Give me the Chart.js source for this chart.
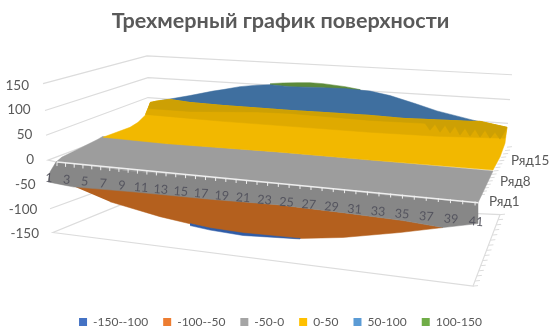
<!DOCTYPE html>
<html lang="ru">
<head>
<meta charset="UTF-8">
<title>Трехмерный график поверхности</title>
<script src="https://cdn.jsdelivr.net/npm/chart.js@4/dist/chart.umd.min.js"></script>
<style>
    html, body { margin: 0; background: #fff; }
    #box { width: 549px; height: 328px; }
    canvas { filter: blur(0.45px); }
</style>
</head>
<body>
<div id="box"><canvas id="grafico"></canvas></div>
<script>
// legenda e eixos
const bandLabels = ['-150--100', '-100--50', '-50-0', '0-50', '50-100', '100-150'];
const categories = [1, 3, 5, 7, 9, 11, 13, 15, 17, 19, 21, 23, 25, 27, 29, 31, 33, 35, 37, 39, 41];
const valueTicks = [150, 100, 50, 0, -50, -100, -150];
const rowLabels = ['Ряд1', 'Ряд8', 'Ряд15'];

// contornos de cada faixa (x em posicao de categoria, y em valor)
const greenX = [23, 24.3, 25.7, 27, 28.3, 30.5, 32, 32, 28.3, 25, 23];
const greenY = [154, 155.4, 156, 156, 154, 148, 142, 140, 146, 148, 152];
const blueX = [12, 12.7, 15, 17.3, 18.3, 20, 21.7, 23, 25, 28.3, 30.5, 33, 35, 37.5, 39.7, 43, 44.2, 44.2, 33, 15, 12];
const blueY = [120, 122, 130, 139, 142, 148, 151, 152, 148, 146, 144, 139, 130, 114, 99, 82, 76, 70, 84, 108, 116];
const yellowTopX = [11, 11.7, 13, 15, 18.3, 21.7, 25, 28.3, 33, 36.3, 39.7, 43, 44, 46.7];
const yellowTopY = [116, 119, 122, 116, 110, 105, 100, 96, 90, 84, 81, 78, 78, 66];
const yellowRestX = [46.5, 46, 45.3, 33, 24, 12.7, 6.3, 9, 9.8, 10.5];
const yellowRestY = [34, 6, -20, 0, 16, 33, 46, 66, 76, 90];
const yellowMidX = [46.5, 39.7, 33, 25, 18.3, 15, 10.5];
const yellowMidY = [44, 48, 56, 68, 78, 84, 92];
const yellowDarkX = [46.5, 46, 45.5, 45, 44.5, 44, 43.5, 43, 42.5, 42, 41.5, 41, 40.5, 40, 39.5, 39, 38.5, 33, 25, 21.7, 15, 10.8];
const yellowDarkY = [58, 42, 56, 44, 60, 46, 62, 48, 64, 50, 68, 54, 70, 56, 72, 60, 74, 80, 94, 97, 98, 104];
const grayX = [6.3, 5.8, 4, 2.2, 1.6, 9, 17, 26, 36, 43.8, 45.3, 33, 24, 12.7];
const grayY = [48, 42, 24, 6, -4, -22, -36, -52, -74, -86, -22, 0, 16, 34];
const frontX = [1.6, 1, 0.8, 2.3, 3.3, 9.3, 17, 23.7, 30.3, 36.3, 40.3, 43.8, 43.8, 36, 26, 17, 9];
const frontY = [-4, -24, -44, -50, -54, -64, -79, -90, -106, -122, -136, -128, -86, -74, -52, -36, -22];
const orangeX = [3.3, 9.3, 17, 23.7, 30.3, 36.3, 40.3, 36, 30.3, 26, 20.3, 17, 12, 7];
const orangeY = [-52, -62, -78, -90, -106, -122, -136, -146, -156, -158, -150, -138, -114, -84];
const lowBlueX = [15, 17, 20.3, 26, 26, 20.3, 17, 15];
const lowBlueY = [-128, -137, -147, -158, -159, -152, -141, -132];

// linhas de grade das paredes e do piso
const axisEdgeX = [1.7, 43.8];
const axisEdgeY = [-4, -86];
const grid150X = [0.3, 10.7, 47.2];
const grid150Y = [154, 210, 172];
const grid100X = [0.5, 10.8, 47];
const grid100Y = [100, 166, 122];
const grid50X = [0.6, 10.8, 46.8];
const grid50Y = [50, 126, 74];
const grid0X = [1.7, 0.8, 10.8];
const grid0Y = [-4, 0, 76];
const gridM100X = [1, 7];
const gridM100Y = [-98, -54];
const floorX = [11, 1.3, 43.3, 46, 43.8];
const floorY = [-66, -146, -254, -110, -108];

const textColor = '#595959';
const legendColors = ['#4472C4', '#ED7D31', '#A5A5A5', '#FFC000', '#5B9BD5', '#70AD47'];

function pts(xs, ys) {
    return xs.map((x, i) => ({ x: x, y: ys[i] }));
}

function faixa(label, xs, ys, cor) {
    return { label: label, data: pts(xs, ys), backgroundColor: cor, borderColor: cor, borderWidth: 0.5, fill: 'shape', pointRadius: 0, showLine: true };
}

function linha(xs, ys, cor, largura) {
    return { label: '', data: pts(xs, ys), borderColor: cor, borderWidth: largura, fill: false, pointRadius: 0, showLine: true };
}

// o primeiro dataset fica por cima
const datasets = [
    linha(axisEdgeX, axisEdgeY, '#eeeeee', 1.5),
    faixa(bandLabels[0], lowBlueX, lowBlueY, '#2F5CA8'),
    faixa(bandLabels[2], frontX, frontY, '#878787'),
    faixa(bandLabels[1], orangeX, orangeY, '#B4601E'),
    faixa(bandLabels[3], yellowTopX.concat(yellowDarkX), yellowTopY.concat(yellowDarkY), '#CDA004'),
    faixa(bandLabels[3], yellowTopX.concat(yellowMidX), yellowTopY.concat(yellowMidY), '#DFAA00'),
    faixa(bandLabels[3], yellowTopX.concat(yellowRestX), yellowTopY.concat(yellowRestY), '#F2B800'),
    faixa(bandLabels[2], grayX, grayY, '#9D9D9D'),
    faixa(bandLabels[4], blueX, blueY, '#3F6F9F'),
    faixa(bandLabels[5], greenX, greenY, '#5C8A3A'),
    linha(grid150X, grid150Y, '#dcdcdc', 1.2),
    linha(grid100X, grid100Y, '#dcdcdc', 1.2),
    linha(grid50X, grid50Y, '#dcdcdc', 1.2),
    linha(grid0X, grid0Y, '#dcdcdc', 1.2),
    linha(gridM100X, gridM100Y, '#dcdcdc', 1.2),
    linha(floorX, floorY, '#dcdcdc', 1.2)
];

// marcas de profundidade a direita, atras da superficie
const hachuras = {
    id: 'hachuras',
    beforeDatasetsDraw(chart) {
        const ctx = chart.ctx, sx = chart.scales.x, sy = chart.scales.y;
        ctx.save();
        ctx.strokeStyle = '#dcdcdc';
        ctx.lineWidth = 1;
        for (let r = 0; r < 15; r++) {
            const t = r / 14;
            [[43.3, -254, 46, -110], [44, -70, 46.7, 26]].forEach(function (e) {
                const px = sx.getPixelForValue(e[0] + (e[2] - e[0]) * t);
                const py = sy.getPixelForValue(e[1] + (e[3] - e[1]) * t);
                ctx.beginPath();
                ctx.moveTo(px, py);
                ctx.lineTo(px + 5, py - 0.5);
                ctx.stroke();
            });
        }
        ctx.restore();
    }
};

// rotulos inclinados e tracinhos do eixo de categorias
const rotulos = {
    id: 'rotulos',
    afterDatasetsDraw(chart) {
        const ctx = chart.ctx, sx = chart.scales.x, sy = chart.scales.y;
        ctx.save();
        ctx.strokeStyle = '#eeeeee';
        ctx.lineWidth = 1;
        for (let c = 1; c <= 41; c++) {
            const d = c - 1;
            const tx = 1.7 + 0.85 * d + 0.00488 * d * d;
            const px = sx.getPixelForValue(tx);
            const py = sy.getPixelForValue(-4 - 1.9 * (tx - 1.7));
            ctx.beginPath();
            ctx.moveTo(px, py);
            ctx.lineTo(px, py + 4);
            ctx.stroke();
        }
        ctx.font = '12.5px Lato, "Open Sans", sans-serif';
        ctx.textAlign = 'center';
        ctx.textBaseline = 'middle';
        ctx.fillStyle = '#55555f';
        categories.forEach(function (c) {
            const d = c - 1;
            const px = sx.getPixelForValue(0.9 + 0.8725 * d + 0.004875 * d * d);
            const py = sy.getPixelForValue(-36 - 1.8 * d - 0.01 * d * d);
            ctx.save();
            ctx.translate(px, py);
            ctx.rotate(0.07);
            ctx.fillText(String(c), 0, 0);
            ctx.restore();
        });
        ctx.font = '13.5px Lato, "Open Sans", sans-serif';
        ctx.fillStyle = textColor;
        ctx.textAlign = 'right';
        valueTicks.forEach(function (v) {
            ctx.fillText(String(v), sx.getPixelForValue(-0.6 - v / 300), sy.getPixelForValue(v) - 0.5);
        });
        ctx.textAlign = 'left';
        rowLabels.forEach(function (nome, i) {
            ctx.fillText(nome, sx.getPixelForValue(44.9 + 1.1 * i), sy.getPixelForValue(-84 + 41 * i));
        });
        ctx.restore();
    }
};

new Chart(document.getElementById('grafico'), {
    type: 'scatter',
    data: { datasets: datasets },
    plugins: [hachuras, rotulos],
    options: {
        responsive: true,
        maintainAspectRatio: false,
        animation: false,
        elements: { line: { tension: 0 } },
        layout: { padding: { bottom: -10, left: 12 } },
        scales: {
            x: { type: 'linear', display: false, min: -2.8, max: 50.9 },
            y: { type: 'linear', display: false, min: -284, max: 250 }
        },
        plugins: {
            tooltip: { enabled: false },
            title: {
                display: true,
                text: 'Трехмерный график поверхности',
                color: textColor,
                font: { family: 'Lato, "Open Sans", sans-serif', size: 21.6, weight: 'bold' },
                padding: { top: 8, bottom: 2.1 }
            },
            legend: {
                display: true,
                position: 'bottom',
                labels: {
                    color: textColor,
                    font: { family: 'Lato, "Open Sans", sans-serif', size: 12 },
                    boxWidth: 8,
                    boxHeight: 8,
                    padding: 15,
                    generateLabels: function () {
                        return bandLabels.map(function (t, i) {
                            return { text: t, fillStyle: legendColors[i], strokeStyle: legendColors[i], lineWidth: 0, fontColor: textColor };
                        });
                    }
                }
            }
        }
    }
});
</script>
</body>
</html>
